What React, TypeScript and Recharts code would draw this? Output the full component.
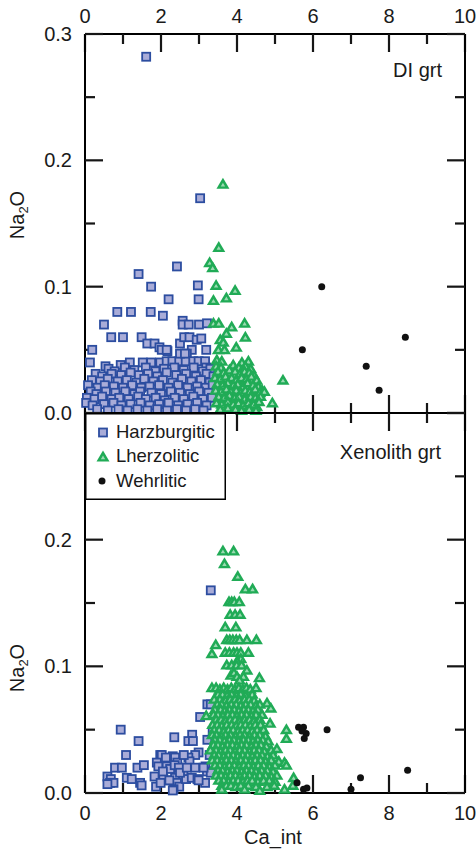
import React from "react";
import { ScatterChart, Scatter, XAxis, YAxis, Legend } from "recharts";

type Pair = [number, number];
type Box = { x: number; y: number; width: number; height: number };

// axis ticks
const X_TICKS = [0, 1, 2, 3, 4, 5, 6, 7, 8, 9, 10];
const X_MAJOR = [0, 2, 4, 6, 8, 10];
const Y_TICKS = [0, 0.05, 0.1, 0.15, 0.2, 0.25, 0.3];
const Y_MAJOR = [0, 0.1, 0.2, 0.3];
const Y_LABELS_DI = [0, 0.1, 0.2, 0.3];
const Y_LABELS_XEN = [0, 0.1, 0.2];

// DI grt panel
const diHarz: Pair[] = [
  [1.61, 0.282], [3.03, 0.17], [2.42, 0.116], [1.41, 0.11], [1.74, 0.1], [2.97, 0.101],
  [2.2, 0.09], [2.99, 0.09], [0.85, 0.08], [1.21, 0.08], [1.73, 0.08], [2.05, 0.077],
  [0.5, 0.07], [2.57, 0.073], [2.57, 0.07], [2.73, 0.07], [3.0, 0.07], [3.21, 0.071],
  [0.69, 0.06], [1.0, 0.06], [1.49, 0.06], [1.64, 0.055], [1.83, 0.055], [1.96, 0.052],
  [2.02, 0.05], [2.17, 0.049], [2.5, 0.055], [2.61, 0.06], [2.75, 0.06], [2.81, 0.05],
  [2.68, 0.047], [2.94, 0.058], [3.06, 0.059], [3.19, 0.05], [0.19, 0.05], [0.13, 0.04],
  [0.54, 0.037], [0.94, 0.038], [1.18, 0.04], [1.52, 0.04], [1.74, 0.04], [1.98, 0.04],
  [2.15, 0.041], [2.3, 0.041], [2.48, 0.041], [2.65, 0.041], [2.85, 0.041], [2.99, 0.041],
  [3.16, 0.041], [2.5, 0.047], [2.63, 0.047], [3.19, 0.036], [2.15, 0.05],
  [0.62, 0.035], [0.78, 0.033], [1.05, 0.036], [1.3, 0.034], [1.6, 0.036], [1.85, 0.033],
  [2.08, 0.035], [2.35, 0.036], [2.6, 0.034], [2.86, 0.036], [3.1, 0.033], [3.3, 0.035],
  [0.28, 0.031], [0.45, 0.029], [0.7, 0.031], [0.95, 0.03], [1.2, 0.032], [1.42, 0.03],
  [1.66, 0.031], [1.9, 0.029], [2.15, 0.032], [2.4, 0.03], [2.66, 0.031], [2.92, 0.029],
  [3.2, 0.031], [3.38, 0.029],
  [0.18, 0.026], [0.4, 0.025], [0.6, 0.027], [0.86, 0.025], [1.1, 0.026], [1.35, 0.024],
  [1.56, 0.027], [1.8, 0.025], [2.05, 0.026], [2.3, 0.024], [2.55, 0.027], [2.8, 0.025],
  [3.05, 0.026], [3.28, 0.024],
  [0.08, 0.022], [0.33, 0.02], [0.52, 0.022], [0.76, 0.021], [1.0, 0.02], [1.24, 0.022],
  [1.48, 0.02], [1.7, 0.021], [1.95, 0.022], [2.2, 0.02], [2.45, 0.022], [2.7, 0.02],
  [2.95, 0.021], [3.18, 0.02], [3.36, 0.022],
  [0.15, 0.017], [0.3, 0.015], [0.55, 0.017], [0.8, 0.016], [1.06, 0.017], [1.3, 0.015],
  [1.45, 0.017], [1.75, 0.016], [2.0, 0.015], [2.26, 0.017], [2.5, 0.016], [2.76, 0.015],
  [3.0, 0.017], [3.25, 0.016],
  [0.05, 0.012], [0.25, 0.011], [0.45, 0.013], [0.7, 0.011], [0.9, 0.012], [1.15, 0.011],
  [1.4, 0.013], [1.6, 0.011], [1.86, 0.012], [2.1, 0.01], [2.36, 0.012], [2.6, 0.011],
  [2.85, 0.013], [3.1, 0.011], [3.34, 0.012],
  [0.03, 0.008], [0.2, 0.006], [0.5, 0.007], [0.75, 0.008], [0.96, 0.006], [1.2, 0.007],
  [1.46, 0.008], [1.7, 0.006], [1.95, 0.007], [2.2, 0.008], [2.45, 0.006], [2.7, 0.007],
  [2.95, 0.008], [3.2, 0.006],
  [0.32, 0.003], [0.6, 0.002], [0.88, 0.003], [1.12, 0.002], [1.38, 0.003], [1.64, 0.002],
  [1.9, 0.003], [2.16, 0.002], [2.42, 0.003], [2.66, 0.002], [2.9, 0.003], [3.12, 0.002],
];

const diLherz: Pair[] = [
  [3.63, 0.181], [3.52, 0.131], [3.28, 0.119], [3.36, 0.115], [3.45, 0.101], [3.95, 0.097],
  [3.72, 0.091], [3.38, 0.089], [3.38, 0.071], [3.52, 0.071], [4.2, 0.071], [3.86, 0.068],
  [3.72, 0.063], [4.22, 0.06], [3.56, 0.058], [3.64, 0.056], [3.98, 0.052], [3.51, 0.05],
  [3.67, 0.05], [3.47, 0.042], [3.6, 0.041], [4.13, 0.04], [4.3, 0.041], [5.21, 0.026],
  [4.93, 0.008], [4.66, 0.018], [4.52, 0.005],
  [3.45, 0.037], [3.58, 0.036], [3.9, 0.038], [4.05, 0.036], [4.22, 0.037], [4.36, 0.035],
  [3.5, 0.033], [3.65, 0.032], [3.8, 0.034], [3.95, 0.033], [4.08, 0.031], [4.2, 0.033],
  [4.32, 0.032], [4.44, 0.03],
  [3.42, 0.028], [3.56, 0.027], [3.7, 0.029], [3.86, 0.028], [3.98, 0.026], [4.12, 0.028],
  [4.25, 0.027], [4.38, 0.029], [4.52, 0.026],
  [3.48, 0.023], [3.62, 0.022], [3.76, 0.024], [3.9, 0.022], [4.02, 0.023], [4.16, 0.021],
  [4.28, 0.024], [4.42, 0.022], [4.56, 0.021],
  [3.44, 0.018], [3.58, 0.017], [3.72, 0.019], [3.84, 0.017], [3.98, 0.018], [4.1, 0.016],
  [4.22, 0.018], [4.34, 0.017], [4.48, 0.019], [4.6, 0.016], [4.72, 0.017],
  [3.52, 0.013], [3.66, 0.012], [3.8, 0.014], [3.94, 0.012], [4.06, 0.013], [4.2, 0.011],
  [4.36, 0.013], [4.48, 0.012], [4.62, 0.013],
  [3.46, 0.008], [3.6, 0.007], [3.76, 0.009], [3.9, 0.007], [4.04, 0.008], [4.16, 0.006],
  [4.3, 0.008], [4.44, 0.007], [4.58, 0.009],
  [3.56, 0.003], [3.76, 0.004], [3.96, 0.003], [4.12, 0.002], [4.32, 0.003], [4.5, 0.002],
];

const diWehr: Pair[] = [
  [6.23, 0.1], [5.72, 0.05], [8.43, 0.06], [7.4, 0.037], [7.74, 0.018],
];

// Xenolith grt panel
const xenHarz: Pair[] = [
  [3.31, 0.16], [3.22, 0.07], [3.31, 0.07], [3.03, 0.06], [3.36, 0.049], [0.94, 0.05],
  [1.41, 0.041], [2.35, 0.044], [2.82, 0.046], [2.72, 0.041], [2.84, 0.041], [3.22, 0.042],
  [1.08, 0.03], [1.98, 0.03], [2.02, 0.03], [2.31, 0.029], [2.37, 0.028], [2.99, 0.032],
  [2.9, 0.03], [1.89, 0.024], [1.93, 0.021], [2.43, 0.024], [2.72, 0.028], [2.75, 0.025],
  [0.79, 0.02], [0.97, 0.02], [1.38, 0.02], [1.55, 0.022], [0.59, 0.013], [0.68, 0.011],
  [0.66, 0.008], [0.75, 0.008], [0.59, 0.007], [1.1, 0.012], [1.23, 0.011], [1.45, 0.008],
  [1.49, 0.006], [1.83, 0.013], [1.87, 0.005], [2.06, 0.011], [2.24, 0.01], [2.37, 0.012],
  [2.42, 0.008], [2.48, 0.005], [2.33, 0.003], [2.59, 0.016], [2.66, 0.011], [2.81, 0.012],
  [2.96, 0.011], [3.16, 0.008], [3.17, 0.021], [3.21, 0.017], [3.28, 0.03], [3.31, 0.016],
  [2.15, 0.021], [2.13, 0.028], [2.24, 0.019], [2.36, 0.022], [2.47, 0.02], [2.5, 0.016],
  [2.22, 0.01], [2.31, 0.002], [2.99, 0.01], [2.68, 0.02], [2.9, 0.02], [3.12, 0.02],
  [2.6, 0.03], [2.05, 0.017], [1.99, 0.008],
];

const xenLherz: Pair[] = [
  [3.63, 0.191], [3.91, 0.191], [3.67, 0.181], [4.02, 0.171], [4.22, 0.161], [4.41, 0.161],
  [3.79, 0.151], [3.86, 0.151], [3.93, 0.151], [4.06, 0.151], [3.82, 0.141], [3.95, 0.141],
  [4.08, 0.141], [3.69, 0.131], [3.97, 0.131], [3.73, 0.121], [3.81, 0.121], [3.89, 0.121],
  [3.98, 0.121], [4.07, 0.121], [4.26, 0.121], [4.51, 0.121], [3.44, 0.117], [3.34, 0.11],
  [3.69, 0.111], [3.8, 0.111], [3.91, 0.111], [4.0, 0.111], [4.1, 0.111], [4.3, 0.111],
  [4.1, 0.106], [4.0, 0.104], [3.73, 0.101], [3.86, 0.101], [3.99, 0.101], [4.12, 0.101],
  [4.26, 0.097], [3.84, 0.093], [3.92, 0.095], [4.0, 0.092], [4.17, 0.092], [4.59, 0.091],
  [4.07, 0.089], [3.19, 0.061],
  [3.34, 0.083], [3.45, 0.083], [3.55, 0.082], [3.65, 0.083], [3.75, 0.082], [3.85, 0.083],
  [3.95, 0.082], [4.05, 0.083], [4.15, 0.082], [4.25, 0.083], [4.35, 0.082], [4.5, 0.083],
  [3.5, 0.078], [3.62, 0.078], [3.74, 0.077], [3.86, 0.078], [3.98, 0.077], [4.1, 0.078],
  [4.22, 0.077], [4.4, 0.078],
  [3.4, 0.074], [3.55, 0.074], [3.7, 0.073], [3.82, 0.074], [3.95, 0.074], [4.07, 0.073],
  [4.2, 0.074], [4.32, 0.074], [4.45, 0.073],
  [3.48, 0.07], [3.6, 0.07], [3.72, 0.069], [3.85, 0.07], [3.98, 0.07], [4.1, 0.069],
  [4.23, 0.07], [4.36, 0.07], [4.5, 0.069], [4.6, 0.07], [4.79, 0.071],
  [3.42, 0.066], [3.57, 0.066], [3.68, 0.065], [3.8, 0.066], [3.93, 0.066], [4.05, 0.065],
  [4.18, 0.066], [4.3, 0.066], [4.42, 0.065], [4.55, 0.066], [4.89, 0.067],
  [3.38, 0.062], [3.5, 0.062], [3.63, 0.061], [3.76, 0.062], [3.88, 0.062], [4.0, 0.061],
  [4.12, 0.062], [4.25, 0.062], [4.38, 0.061], [4.5, 0.062], [4.66, 0.062],
  [3.45, 0.058], [3.58, 0.058], [3.7, 0.057], [3.82, 0.058], [3.95, 0.058], [4.08, 0.057],
  [4.2, 0.058], [4.33, 0.058], [4.45, 0.057], [4.6, 0.058],
  [3.36, 0.054], [3.48, 0.054], [3.6, 0.053], [3.73, 0.054], [3.86, 0.054], [3.98, 0.053],
  [4.1, 0.054], [4.22, 0.054], [4.35, 0.053], [4.48, 0.054], [4.62, 0.054], [4.87, 0.055],
  [3.4, 0.05], [3.53, 0.05], [3.66, 0.049], [3.78, 0.05], [3.9, 0.05], [4.03, 0.049],
  [4.15, 0.05], [4.28, 0.05], [4.4, 0.049], [4.53, 0.05], [4.7, 0.05], [5.3, 0.05],
  [3.35, 0.046], [3.46, 0.046], [3.58, 0.045], [3.7, 0.046], [3.83, 0.046], [3.96, 0.045],
  [4.08, 0.046], [4.2, 0.046], [4.33, 0.045], [4.46, 0.046], [4.6, 0.046], [4.75, 0.045],
  [3.42, 0.042], [3.55, 0.042], [3.67, 0.041], [3.8, 0.042], [3.92, 0.042], [4.05, 0.041],
  [4.17, 0.042], [4.3, 0.042], [4.42, 0.041], [4.55, 0.042], [4.68, 0.042], [4.82, 0.041],
  [5.3, 0.043],
  [3.38, 0.038], [3.5, 0.038], [3.62, 0.037], [3.75, 0.038], [3.88, 0.038], [4.0, 0.037],
  [4.12, 0.038], [4.25, 0.038], [4.38, 0.037], [4.5, 0.038], [4.63, 0.038], [4.77, 0.037],
  [3.3, 0.034], [3.45, 0.034], [3.57, 0.033], [3.7, 0.034], [3.82, 0.034], [3.95, 0.033],
  [4.07, 0.034], [4.2, 0.034], [4.33, 0.033], [4.45, 0.034], [4.58, 0.034], [4.72, 0.033],
  [4.9, 0.034], [5.05, 0.035],
  [3.4, 0.03], [3.52, 0.03], [3.65, 0.029], [3.77, 0.03], [3.9, 0.03], [4.02, 0.029],
  [4.15, 0.03], [4.28, 0.03], [4.4, 0.029], [4.53, 0.03], [4.66, 0.03], [4.8, 0.029],
  [4.95, 0.03],
  [3.35, 0.026], [3.48, 0.026], [3.6, 0.025], [3.72, 0.026], [3.85, 0.026], [3.97, 0.025],
  [4.1, 0.026], [4.23, 0.026], [4.36, 0.025], [4.48, 0.026], [4.62, 0.026], [4.75, 0.025],
  [4.9, 0.026], [5.1, 0.025], [5.25, 0.024],
  [3.42, 0.022], [3.55, 0.022], [3.68, 0.021], [3.8, 0.022], [3.93, 0.022], [4.06, 0.021],
  [4.18, 0.022], [4.3, 0.022], [4.43, 0.021], [4.56, 0.022], [4.7, 0.022], [4.85, 0.021],
  [5.0, 0.022], [5.3, 0.022],
  [3.5, 0.018], [3.62, 0.018], [3.75, 0.017], [3.88, 0.018], [4.0, 0.018], [4.12, 0.017],
  [4.25, 0.018], [4.38, 0.018], [4.5, 0.017], [4.65, 0.018], [4.8, 0.018], [4.95, 0.017],
  [3.45, 0.014], [3.58, 0.014], [3.7, 0.013], [3.83, 0.014], [3.96, 0.014], [4.08, 0.013],
  [4.2, 0.014], [4.33, 0.014], [4.46, 0.013], [4.6, 0.014], [4.75, 0.014], [4.9, 0.013],
  [5.05, 0.014],
  [3.52, 0.01], [3.65, 0.01], [3.78, 0.009], [3.9, 0.01], [4.03, 0.01], [4.16, 0.009],
  [4.28, 0.01], [4.4, 0.01], [4.55, 0.009], [4.7, 0.01], [4.85, 0.01], [5.0, 0.009],
  [5.49, 0.012],
  [3.6, 0.006], [3.72, 0.006], [3.84, 0.006], [3.97, 0.005], [4.1, 0.006], [4.3, 0.006],
  [4.5, 0.005], [4.79, 0.005], [4.98, 0.006], [5.47, 0.006],
  [3.6, 0.003], [4.2, 0.003], [4.6, 0.002], [5.25, 0.003],
];

const xenWehr: Pair[] = [
  [5.62, 0.052], [5.75, 0.052], [5.82, 0.047], [5.77, 0.043], [5.71, 0.049], [6.37, 0.05],
  [8.49, 0.018], [7.25, 0.012], [7.0, 0.003], [5.58, 0.008], [5.75, 0.003], [5.84, 0.004],
];

const FONT = "'Liberation Sans', Arial, Helvetica, sans-serif";
const BLUE = "#2c4da0";
const LAVENDER = "#a9acd8";
const GREEN = "#20ab56";
const PALE_GREEN = "#9bdab2";
const INK = "#161616";

const toPoints = (pairs: Pair[]) => pairs.map(([x, y]) => ({ x, y }));

const Square = ({ cx, cy }: any) => (
  <rect x={cx - 4} y={cy - 4} width={8} height={8} fill={LAVENDER} stroke={BLUE} strokeWidth={1.8} />
);

const Triangle = ({ cx, cy }: any) => (
  <g>
    <path d={`M${cx},${cy - 6.5}L${cx + 6.5},${cy + 4.5}L${cx - 6.5},${cy + 4.5}Z`} fill={GREEN} />
    <path d={`M${cx},${cy - 1.5}L${cx + 2.2},${cy + 2.2}L${cx - 2.2},${cy + 2.2}Z`} fill={PALE_GREEN} />
  </g>
);

const Dot = ({ cx, cy }: any) => <circle cx={cx} cy={cy} r={3.5} fill="#111" />;

// tick label text only (positions from recharts' axis)
function AxisTick({ x = 0, y = 0, payload, side, labels, fmt }: any) {
  const v = payload ? payload.value : 0;
  if (!labels.includes(v)) return <g />;
  const text = fmt ? fmt(v) : String(v);
  let tx = x;
  let ty = y;
  let anchor: "middle" | "end" = "middle";
  if (side === "top") ty = y - 11;
  else if (side === "bottom") ty = y + 27;
  else {
    tx = x - 13;
    ty = y + 7;
    anchor = "end";
  }
  return (
    <text x={tx} y={ty} textAnchor={anchor} fontSize={20} fontFamily={FONT} fill="#1a1a1a">
      {text}
    </text>
  );
}

// inward tick marks, drawn in the axis label slot from the axis box
function AxisMarks({ viewBox, fallback, markSide, markTicks, markMajors, markMax, extra }: any) {
  const ok =
    viewBox &&
    typeof viewBox.width === "number" &&
    Math.abs(viewBox.width - fallback.width) < 1 &&
    Math.abs(viewBox.height - fallback.height) < 1;
  const vb: Box = ok ? viewBox : fallback;
  const marks = markTicks.map((v: number) => {
    const len = markMajors.includes(v) ? 18 : 10;
    if (markSide === "left" || markSide === "right") {
      const yy = vb.y + vb.height * (1 - v / markMax);
      const x0 = markSide === "left" ? vb.x + vb.width : vb.x;
      const x1 = markSide === "left" ? x0 : x0 - len;
      return <rect key={v} x={x1} y={yy - 1.1} width={len} height={2.2} fill={INK} />;
    }
    const xx = vb.x + vb.width * (v / markMax);
    const y0 = markSide === "top" ? vb.y + vb.height : vb.y;
    const y1 = markSide === "top" ? y0 : y0 - len;
    return <rect key={v} x={xx - 1.1} y={y1} width={2.2} height={len} fill={INK} />;
  });
  return (
    <g>
      {marks}
      {extra}
    </g>
  );
}

const NaLabel = ({ px, py }: any) => (
  <text
    transform={`translate(${px},${py}) rotate(-90)`}
    textAnchor="middle"
    fontSize={20}
    fontFamily={FONT}
    fill="#1a1a1a"
  >
    Na
    <tspan fontSize={13} dy={4}>2</tspan>
    <tspan dy={-4}>O</tspan>
  </text>
);

const TextTag = ({ px, py, text, anchor = "end" }: any) => (
  <text x={px} y={py} textAnchor={anchor} fontSize={20} fontFamily={FONT} fill="#1a1a1a">
    {text}
  </text>
);

const LegendBox = () => (
  <svg width={141} height={87} style={{ display: "block" }}>
    <rect x={0.75} y={0.75} width={139.5} height={85.5} fill="#fff" stroke="#000" strokeWidth={1.5} />
    <Square cx={18} cy={19.5} />
    <text x={31} y={24.5} fontSize={18.5} fontFamily={FONT} fill="#1a1a1a">Harzburgitic</text>
    <Triangle cx={18} cy={44} />
    <text x={31} y={49} fontSize={18.5} fontFamily={FONT} fill="#1a1a1a">Lherzolitic</text>
    <Dot cx={17} cy={68} />
    <text x={31} y={73.5} fontSize={18.5} fontFamily={FONT} fill="#1a1a1a">Wehrlitic</text>
  </svg>
);

const axisLine = { stroke: "#000", strokeWidth: 2 };
const fmtY = (v: number) => v.toFixed(1);
const tickBase = { axisLine, tickLine: false, tickSize: 0, tickMargin: 0, interval: 0 as const };

const xMarks = { markTicks: X_TICKS, markMajors: X_MAJOR, markMax: 10 };
const yMarks = { markTicks: Y_TICKS, markMajors: Y_MAJOR, markMax: 0.3 };

export default function App() {
  return (
    <div style={{ position: "absolute", left: 0, top: 0, width: 476, height: 853, background: "#fff" }}>
      {/* DI grt */}
      <div style={{ position: "absolute", left: 0, top: 0 }}>
        <ScatterChart width={476} height={432} margin={{ top: 0, right: 0, bottom: 0, left: 0 }}>
          <XAxis {...tickBase} xAxisId="x" orientation="bottom" type="number" dataKey="x" domain={[0, 10]} ticks={X_TICKS} height={19}
            tick={(p: any) => <AxisTick {...p} side="bottom" labels={[]} />}
            label={<AxisMarks {...xMarks} markSide="bottom" fallback={{ x: 85, y: 413, width: 380, height: 19 }} />} />
          <XAxis {...tickBase} xAxisId="xt" orientation="top" type="number" dataKey="x" domain={[0, 10]} ticks={X_TICKS} height={34}
            tick={(p: any) => <AxisTick {...p} side="top" labels={X_MAJOR} />}
            label={<AxisMarks {...xMarks} markSide="top" fallback={{ x: 85, y: 0, width: 380, height: 34 }} />} />
          <YAxis {...tickBase} yAxisId="y" orientation="left" type="number" dataKey="y" domain={[0, 0.3]} ticks={Y_TICKS} width={85}
            tick={(p: any) => <AxisTick {...p} side="left" labels={Y_LABELS_DI} fmt={fmtY} />}
            label={<AxisMarks {...yMarks} markSide="left" fallback={{ x: 0, y: 34, width: 85, height: 379 }}
              extra={<NaLabel px={24} py={215} />} />} />
          <YAxis {...tickBase} yAxisId="yr" orientation="right" type="number" domain={[0, 0.3]} allowDataOverflow ticks={Y_TICKS} width={11}
            tick={(p: any) => <AxisTick {...p} side="right" labels={[]} />}
            label={<AxisMarks {...yMarks} markSide="right" fallback={{ x: 465, y: 34, width: 11, height: 379 }}
              extra={<TextTag px={442} py={77} text="DI grt" />} />} />
          <Scatter name="Harzburgitic" data={toPoints(diHarz)} xAxisId="x" yAxisId="y" shape={Square} isAnimationActive={false} />
          <Scatter name="Lherzolitic" data={toPoints(diLherz)} xAxisId="x" yAxisId="y" shape={Triangle} isAnimationActive={false} />
          <Scatter name="Wehrlitic" data={toPoints(diWehr)} xAxisId="xt" yAxisId="y" shape={Dot} isAnimationActive={false} />
        </ScatterChart>
      </div>

      {/* Xenolith grt */}
      <div style={{ position: "absolute", left: 0, top: 400 }}>
        <ScatterChart width={476} height={453} margin={{ top: 0, right: 0, bottom: 0, left: 0 }}>
          <XAxis {...tickBase} xAxisId="x" orientation="bottom" type="number" dataKey="x" domain={[0, 10]} ticks={X_TICKS} height={60}
            tick={(p: any) => <AxisTick {...p} side="bottom" labels={X_MAJOR} />}
            label={<AxisMarks {...xMarks} markSide="bottom" fallback={{ x: 85, y: 393, width: 380, height: 60 }}
              extra={<TextTag px={273} py={444} text="Ca_int" anchor="middle" />} />} />
          <XAxis {...tickBase} xAxisId="xt" orientation="top" type="number" dataKey="x" domain={[0, 10]} ticks={X_TICKS} height={13}
            tick={(p: any) => <AxisTick {...p} side="top" labels={[]} />}
            label={<AxisMarks {...xMarks} markSide="top" fallback={{ x: 85, y: 0, width: 380, height: 13 }} />} />
          <YAxis {...tickBase} yAxisId="y" orientation="left" type="number" dataKey="y" domain={[0, 0.3]} ticks={Y_TICKS} width={85}
            tick={(p: any) => <AxisTick {...p} side="left" labels={Y_LABELS_XEN} fmt={fmtY} />}
            label={<AxisMarks {...yMarks} markSide="left" fallback={{ x: 0, y: 13, width: 85, height: 380 }}
              extra={<NaLabel px={24} py={268} />} />} />
          <YAxis {...tickBase} yAxisId="yr" orientation="right" type="number" domain={[0, 0.3]} allowDataOverflow ticks={Y_TICKS} width={11}
            tick={(p: any) => <AxisTick {...p} side="right" labels={[]} />}
            label={<AxisMarks {...yMarks} markSide="right" fallback={{ x: 465, y: 13, width: 11, height: 380 }}
              extra={<TextTag px={441} py={59} text="Xenolith grt" />} />} />
          <Scatter name="Harzburgitic" data={toPoints(xenHarz)} xAxisId="x" yAxisId="y" shape={Square} isAnimationActive={false} />
          <Scatter name="Lherzolitic" data={toPoints(xenLherz)} xAxisId="x" yAxisId="y" shape={Triangle} isAnimationActive={false} />
          <Scatter name="Wehrlitic" data={toPoints(xenWehr)} xAxisId="xt" yAxisId="y" shape={Dot} isAnimationActive={false} />
          <Legend
            layout="vertical"
            align="center"
            verticalAlign="middle"
            content={() => <LegendBox />}
            wrapperStyle={{ left: 85, top: 13, width: 141, height: 87 }}
          />
        </ScatterChart>
      </div>
    </div>
  );
}
